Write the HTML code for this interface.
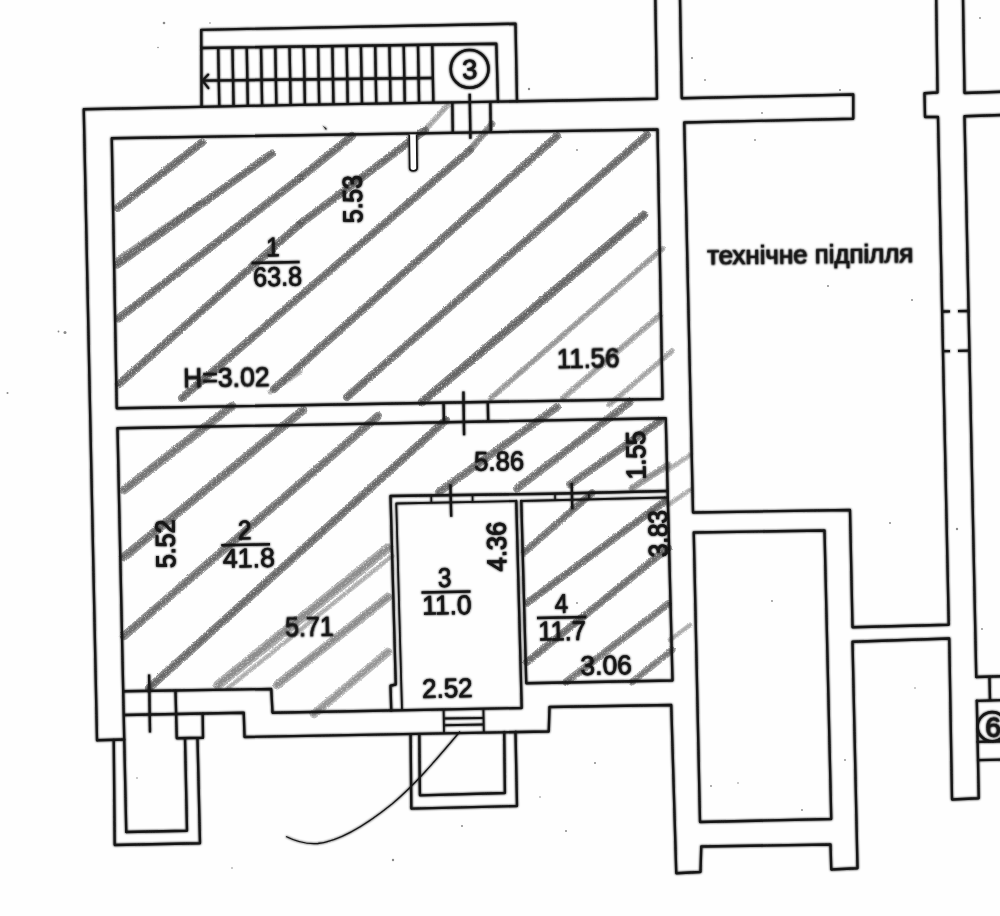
<!DOCTYPE html>
<html><head><meta charset="utf-8"><title>plan</title>
<style>
html,body{margin:0;padding:0;background:#fefefe;}
body{width:1000px;height:916px;overflow:hidden;font-family:"Liberation Sans",sans-serif;}
svg{display:block;}
text{font-family:"Liberation Sans",sans-serif;fill:#141414;stroke:#141414;stroke-width:0.55px;}
</style></head><body>
<svg width="1000" height="916" viewBox="0 0 1000 916">
<defs>
<filter id="pencil" x="-5%" y="-5%" width="110%" height="110%">
<feTurbulence type="fractalNoise" baseFrequency="0.8" numOctaves="2" seed="3" result="n"/>
<feDisplacementMap in="SourceGraphic" in2="n" scale="2.6" xChannelSelector="R" yChannelSelector="G" result="d"/>
<feColorMatrix in="n" type="matrix" values="0 0 0 0 0  0 0 0 0 0  0 0 0 0 0  0 1.9 0 0 0.15" result="a"/>
<feComposite in="d" in2="a" operator="in" result="g"/>
<feGaussianBlur in="g" stdDeviation="0.5"/>
</filter>
<filter id="soft" x="-2%" y="-2%" width="104%" height="104%"><feGaussianBlur stdDeviation="0.8" result="b"/><feMerge><feMergeNode in="b"/><feMergeNode in="SourceGraphic"/></feMerge></filter>
</defs>
<rect width="1000" height="916" fill="#fefefe"/>
<g><circle cx="164" cy="23" r="1.3" fill="#8a8a8a"/><circle cx="210" cy="23" r="0.8" fill="#8a8a8a"/><circle cx="158" cy="47.5" r="0.8" fill="#8a8a8a"/><circle cx="529" cy="89" r="1.2" fill="#8a8a8a"/><circle cx="65" cy="332.4" r="1.5" fill="#8a8a8a"/><circle cx="58.5" cy="331.5" r="0.9" fill="#8a8a8a"/><circle cx="7.5" cy="393" r="1.0" fill="#8a8a8a"/><circle cx="322" cy="47" r="1.0" fill="#8a8a8a"/><circle cx="692" cy="58" r="1.0" fill="#8a8a8a"/><circle cx="705" cy="80" r="0.9" fill="#8a8a8a"/><circle cx="840" cy="90" r="1.0" fill="#8a8a8a"/><circle cx="762" cy="113" r="0.9" fill="#8a8a8a"/><circle cx="980" cy="18" r="0.9" fill="#8a8a8a"/><circle cx="755" cy="140" r="0.9" fill="#8a8a8a"/><circle cx="828" cy="286" r="1.0" fill="#8a8a8a"/><circle cx="912" cy="300" r="1.0" fill="#8a8a8a"/><circle cx="982" cy="629" r="0.9" fill="#8a8a8a"/><circle cx="957" cy="529" r="1.2" fill="#8a8a8a"/><circle cx="890" cy="523" r="1.0" fill="#8a8a8a"/><circle cx="772" cy="601" r="0.9" fill="#8a8a8a"/><circle cx="711" cy="786" r="0.9" fill="#8a8a8a"/><circle cx="595" cy="763" r="1.0" fill="#8a8a8a"/><circle cx="566" cy="831" r="1.0" fill="#8a8a8a"/><circle cx="393" cy="860" r="1.2" fill="#8a8a8a"/><circle cx="462" cy="826" r="1.0" fill="#8a8a8a"/><circle cx="540" cy="797" r="0.8" fill="#8a8a8a"/><circle cx="232" cy="868" r="0.8" fill="#8a8a8a"/><circle cx="137" cy="778" r="0.8" fill="#8a8a8a"/><circle cx="738" cy="783" r="0.8" fill="#8a8a8a"/><circle cx="845" cy="760" r="0.9" fill="#8a8a8a"/><circle cx="802" cy="810" r="0.9" fill="#8a8a8a"/><circle cx="915" cy="688" r="0.8" fill="#8a8a8a"/><circle cx="577" cy="603" r="0.9" fill="#8a8a8a"/><circle cx="641" cy="130" r="0.8" fill="#8a8a8a"/><circle cx="577" cy="150" r="0.9" fill="#8a8a8a"/></g>
<g filter="url(#pencil)">
<line x1="117.5" y1="208" x2="202" y2="142.5" stroke="#6c6c6c" stroke-width="8.05" stroke-opacity="0.79" stroke-linecap="round"/>
<line x1="117.5" y1="208" x2="202" y2="142.5" stroke="#4e4e4e" stroke-width="4.43" stroke-opacity="0.54" stroke-linecap="round"/>
<line x1="117.5" y1="264.5" x2="272" y2="153.5" stroke="#6c6c6c" stroke-width="8.05" stroke-opacity="0.79" stroke-linecap="round"/>
<line x1="117.5" y1="264.5" x2="272" y2="153.5" stroke="#4e4e4e" stroke-width="4.43" stroke-opacity="0.54" stroke-linecap="round"/>
<line x1="118" y1="259" x2="200" y2="203" stroke="#6c6c6c" stroke-width="5.25" stroke-opacity="0.53" stroke-linecap="round"/>
<line x1="118" y1="259" x2="200" y2="203" stroke="#4e4e4e" stroke-width="2.89" stroke-opacity="0.36" stroke-linecap="round"/>
<line x1="118.5" y1="318.5" x2="300" y2="178" stroke="#6c6c6c" stroke-width="8.05" stroke-opacity="0.79" stroke-linecap="round"/>
<line x1="118.5" y1="318.5" x2="300" y2="178" stroke="#4e4e4e" stroke-width="4.43" stroke-opacity="0.54" stroke-linecap="round"/>
<line x1="300" y1="178" x2="352" y2="136" stroke="#6c6c6c" stroke-width="8.05" stroke-opacity="0.79" stroke-linecap="round"/>
<line x1="300" y1="178" x2="352" y2="136" stroke="#4e4e4e" stroke-width="4.43" stroke-opacity="0.54" stroke-linecap="round"/>
<line x1="119" y1="384" x2="300" y2="224" stroke="#6c6c6c" stroke-width="8.05" stroke-opacity="0.79" stroke-linecap="round"/>
<line x1="119" y1="384" x2="300" y2="224" stroke="#4e4e4e" stroke-width="4.43" stroke-opacity="0.54" stroke-linecap="round"/>
<line x1="300" y1="224" x2="425" y2="130" stroke="#6c6c6c" stroke-width="8.05" stroke-opacity="0.79" stroke-linecap="round"/>
<line x1="300" y1="224" x2="425" y2="130" stroke="#4e4e4e" stroke-width="4.43" stroke-opacity="0.54" stroke-linecap="round"/>
<line x1="425" y1="130" x2="447" y2="106" stroke="#6c6c6c" stroke-width="6.12" stroke-opacity="0.40" stroke-linecap="round"/>
<line x1="425" y1="130" x2="447" y2="106" stroke="#4e4e4e" stroke-width="3.37" stroke-opacity="0.27" stroke-linecap="round"/>
<line x1="182" y1="398" x2="470" y2="150" stroke="#6c6c6c" stroke-width="8.05" stroke-opacity="0.79" stroke-linecap="round"/>
<line x1="182" y1="398" x2="470" y2="150" stroke="#4e4e4e" stroke-width="4.43" stroke-opacity="0.54" stroke-linecap="round"/>
<line x1="470" y1="150" x2="492" y2="124" stroke="#6c6c6c" stroke-width="7.00" stroke-opacity="0.62" stroke-linecap="round"/>
<line x1="470" y1="150" x2="492" y2="124" stroke="#4e4e4e" stroke-width="3.85" stroke-opacity="0.42" stroke-linecap="round"/>
<line x1="274" y1="389" x2="557" y2="136" stroke="#6c6c6c" stroke-width="8.05" stroke-opacity="0.79" stroke-linecap="round"/>
<line x1="274" y1="389" x2="557" y2="136" stroke="#4e4e4e" stroke-width="4.43" stroke-opacity="0.54" stroke-linecap="round"/>
<line x1="347" y1="397" x2="647" y2="135" stroke="#6c6c6c" stroke-width="8.05" stroke-opacity="0.79" stroke-linecap="round"/>
<line x1="347" y1="397" x2="647" y2="135" stroke="#4e4e4e" stroke-width="4.43" stroke-opacity="0.54" stroke-linecap="round"/>
<line x1="422" y1="402" x2="644" y2="215" stroke="#6e6e6e" stroke-width="8.75" stroke-opacity="0.84" stroke-linecap="round"/>
<line x1="422" y1="402" x2="644" y2="215" stroke="#4e4e4e" stroke-width="4.81" stroke-opacity="0.57" stroke-linecap="round"/>
<line x1="491" y1="398" x2="662" y2="249" stroke="#6c6c6c" stroke-width="6.30" stroke-opacity="0.48" stroke-linecap="round"/>
<line x1="491" y1="398" x2="662" y2="249" stroke="#4e4e4e" stroke-width="3.47" stroke-opacity="0.33" stroke-linecap="round"/>
<line x1="563" y1="398" x2="660" y2="315" stroke="#6c6c6c" stroke-width="6.30" stroke-opacity="0.44" stroke-linecap="round"/>
<line x1="563" y1="398" x2="660" y2="315" stroke="#4e4e4e" stroke-width="3.47" stroke-opacity="0.30" stroke-linecap="round"/>
<line x1="609" y1="405" x2="672" y2="351" stroke="#6c6c6c" stroke-width="5.95" stroke-opacity="0.40" stroke-linecap="round"/>
<line x1="609" y1="405" x2="672" y2="351" stroke="#4e4e4e" stroke-width="3.27" stroke-opacity="0.27" stroke-linecap="round"/>
<line x1="270" y1="392" x2="300" y2="372" stroke="#6c6c6c" stroke-width="5.25" stroke-opacity="0.35" stroke-linecap="round"/>
<line x1="270" y1="392" x2="300" y2="372" stroke="#4e4e4e" stroke-width="2.89" stroke-opacity="0.24" stroke-linecap="round"/>
<line x1="124" y1="490" x2="232" y2="406" stroke="#6c6c6c" stroke-width="8.75" stroke-opacity="0.70" stroke-linecap="round"/>
<line x1="124" y1="490" x2="232" y2="406" stroke="#4e4e4e" stroke-width="4.81" stroke-opacity="0.48" stroke-linecap="round"/>
<line x1="124" y1="557" x2="303" y2="410" stroke="#6c6c6c" stroke-width="8.75" stroke-opacity="0.75" stroke-linecap="round"/>
<line x1="124" y1="557" x2="303" y2="410" stroke="#4e4e4e" stroke-width="4.81" stroke-opacity="0.51" stroke-linecap="round"/>
<line x1="124" y1="636" x2="378" y2="416" stroke="#6c6c6c" stroke-width="8.40" stroke-opacity="0.75" stroke-linecap="round"/>
<line x1="124" y1="636" x2="378" y2="416" stroke="#4e4e4e" stroke-width="4.62" stroke-opacity="0.51" stroke-linecap="round"/>
<line x1="149" y1="688" x2="446" y2="420" stroke="#6c6c6c" stroke-width="8.40" stroke-opacity="0.79" stroke-linecap="round"/>
<line x1="149" y1="688" x2="446" y2="420" stroke="#4e4e4e" stroke-width="4.62" stroke-opacity="0.54" stroke-linecap="round"/>
<line x1="218" y1="685" x2="388" y2="548" stroke="#6c6c6c" stroke-width="9.62" stroke-opacity="0.53" stroke-linecap="round"/>
<line x1="218" y1="685" x2="388" y2="548" stroke="#4e4e4e" stroke-width="5.29" stroke-opacity="0.36" stroke-linecap="round"/>
<line x1="228" y1="688" x2="392" y2="556" stroke="#6c6c6c" stroke-width="5.25" stroke-opacity="0.35" stroke-linecap="round"/>
<line x1="228" y1="688" x2="392" y2="556" stroke="#4e4e4e" stroke-width="2.89" stroke-opacity="0.24" stroke-linecap="round"/>
<line x1="277" y1="685" x2="388" y2="597" stroke="#6c6c6c" stroke-width="8.75" stroke-opacity="0.53" stroke-linecap="round"/>
<line x1="277" y1="685" x2="388" y2="597" stroke="#4e4e4e" stroke-width="4.81" stroke-opacity="0.36" stroke-linecap="round"/>
<line x1="314" y1="714" x2="388" y2="652" stroke="#6c6c6c" stroke-width="8.75" stroke-opacity="0.48" stroke-linecap="round"/>
<line x1="314" y1="714" x2="388" y2="652" stroke="#4e4e4e" stroke-width="4.81" stroke-opacity="0.33" stroke-linecap="round"/>
<line x1="439" y1="492" x2="557" y2="407" stroke="#6c6c6c" stroke-width="8.05" stroke-opacity="0.75" stroke-linecap="round"/>
<line x1="439" y1="492" x2="557" y2="407" stroke="#4e4e4e" stroke-width="4.43" stroke-opacity="0.51" stroke-linecap="round"/>
<line x1="517" y1="488.5" x2="630" y2="402" stroke="#6c6c6c" stroke-width="8.05" stroke-opacity="0.75" stroke-linecap="round"/>
<line x1="517" y1="488.5" x2="630" y2="402" stroke="#4e4e4e" stroke-width="4.43" stroke-opacity="0.51" stroke-linecap="round"/>
<line x1="570" y1="484.5" x2="660" y2="421" stroke="#6c6c6c" stroke-width="7.70" stroke-opacity="0.75" stroke-linecap="round"/>
<line x1="570" y1="484.5" x2="660" y2="421" stroke="#4e4e4e" stroke-width="4.24" stroke-opacity="0.51" stroke-linecap="round"/>
<line x1="524.5" y1="552" x2="592" y2="493" stroke="#6c6c6c" stroke-width="7.35" stroke-opacity="0.75" stroke-linecap="round"/>
<line x1="524.5" y1="552" x2="592" y2="493" stroke="#4e4e4e" stroke-width="4.04" stroke-opacity="0.51" stroke-linecap="round"/>
<line x1="632" y1="488" x2="668" y2="465" stroke="#6c6c6c" stroke-width="7.00" stroke-opacity="0.53" stroke-linecap="round"/>
<line x1="632" y1="488" x2="668" y2="465" stroke="#4e4e4e" stroke-width="3.85" stroke-opacity="0.36" stroke-linecap="round"/>
<line x1="527" y1="603" x2="665" y2="501" stroke="#6c6c6c" stroke-width="7.70" stroke-opacity="0.77" stroke-linecap="round"/>
<line x1="527" y1="603" x2="665" y2="501" stroke="#4e4e4e" stroke-width="4.24" stroke-opacity="0.53" stroke-linecap="round"/>
<line x1="527" y1="662" x2="668" y2="548" stroke="#6c6c6c" stroke-width="7.70" stroke-opacity="0.75" stroke-linecap="round"/>
<line x1="527" y1="662" x2="668" y2="548" stroke="#4e4e4e" stroke-width="4.24" stroke-opacity="0.51" stroke-linecap="round"/>
<line x1="566" y1="682" x2="668" y2="604" stroke="#6c6c6c" stroke-width="7.35" stroke-opacity="0.70" stroke-linecap="round"/>
<line x1="566" y1="682" x2="668" y2="604" stroke="#4e4e4e" stroke-width="4.04" stroke-opacity="0.48" stroke-linecap="round"/>
<line x1="632" y1="682" x2="672" y2="650" stroke="#6c6c6c" stroke-width="7.00" stroke-opacity="0.66" stroke-linecap="round"/>
<line x1="632" y1="682" x2="672" y2="650" stroke="#4e4e4e" stroke-width="3.85" stroke-opacity="0.45" stroke-linecap="round"/>
<line x1="668" y1="470" x2="690" y2="455" stroke="#6c6c6c" stroke-width="5.25" stroke-opacity="0.35" stroke-linecap="round"/>
<line x1="668" y1="470" x2="690" y2="455" stroke="#4e4e4e" stroke-width="2.89" stroke-opacity="0.24" stroke-linecap="round"/>
<line x1="668" y1="505" x2="690" y2="490" stroke="#6c6c6c" stroke-width="5.25" stroke-opacity="0.35" stroke-linecap="round"/>
<line x1="668" y1="505" x2="690" y2="490" stroke="#4e4e4e" stroke-width="2.89" stroke-opacity="0.24" stroke-linecap="round"/>
<line x1="670" y1="640" x2="690" y2="625" stroke="#6c6c6c" stroke-width="5.25" stroke-opacity="0.35" stroke-linecap="round"/>
<line x1="670" y1="640" x2="690" y2="625" stroke="#4e4e4e" stroke-width="2.89" stroke-opacity="0.24" stroke-linecap="round"/>
</g>
<g filter="url(#soft)">
<polyline points="201.60,106.80 201.20,29.80 515.50,23.75 517.00,101.30" fill="none" stroke="#141414" stroke-width="2.35" stroke-linejoin="round" stroke-linecap="round" />
<polyline points="201.30,48.00 496.30,43.75 498.00,101.70" fill="none" stroke="#141414" stroke-width="2.35" stroke-linejoin="round" stroke-linecap="round" />
<line x1="218.20" y1="47.76" x2="219.30" y2="106.50" stroke="#141414" stroke-width="2.35" stroke-linecap="butt" />
<line x1="232.47" y1="47.55" x2="233.57" y2="106.25" stroke="#141414" stroke-width="2.35" stroke-linecap="butt" />
<line x1="246.74" y1="47.35" x2="247.84" y2="106.00" stroke="#141414" stroke-width="2.35" stroke-linecap="butt" />
<line x1="261.01" y1="47.14" x2="262.11" y2="105.75" stroke="#141414" stroke-width="2.35" stroke-linecap="butt" />
<line x1="275.28" y1="46.93" x2="276.38" y2="105.50" stroke="#141414" stroke-width="2.35" stroke-linecap="butt" />
<line x1="289.55" y1="46.73" x2="290.65" y2="105.25" stroke="#141414" stroke-width="2.35" stroke-linecap="butt" />
<line x1="303.82" y1="46.52" x2="304.92" y2="105.00" stroke="#141414" stroke-width="2.35" stroke-linecap="butt" />
<line x1="318.09" y1="46.32" x2="319.19" y2="104.75" stroke="#141414" stroke-width="2.35" stroke-linecap="butt" />
<line x1="332.36" y1="46.11" x2="333.46" y2="104.50" stroke="#141414" stroke-width="2.35" stroke-linecap="butt" />
<line x1="346.63" y1="45.91" x2="347.73" y2="104.25" stroke="#141414" stroke-width="2.35" stroke-linecap="butt" />
<line x1="360.90" y1="45.70" x2="362.00" y2="104.00" stroke="#141414" stroke-width="2.35" stroke-linecap="butt" />
<line x1="375.17" y1="45.50" x2="376.27" y2="103.75" stroke="#141414" stroke-width="2.35" stroke-linecap="butt" />
<line x1="389.44" y1="45.29" x2="390.54" y2="103.50" stroke="#141414" stroke-width="2.35" stroke-linecap="butt" />
<line x1="403.71" y1="45.08" x2="404.81" y2="103.25" stroke="#141414" stroke-width="2.35" stroke-linecap="butt" />
<line x1="417.98" y1="44.88" x2="419.08" y2="103.00" stroke="#141414" stroke-width="2.35" stroke-linecap="butt" />
<line x1="432.25" y1="44.67" x2="433.35" y2="102.75" stroke="#141414" stroke-width="2.35" stroke-linecap="butt" />
<line x1="201.50" y1="80.60" x2="432.30" y2="78.00" stroke="#141414" stroke-width="2.35" stroke-linecap="butt" />
<polyline points="208.20,74.60 202.60,80.60 208.40,88.20" fill="none" stroke="#141414" stroke-width="2.2" stroke-linejoin="round" stroke-linecap="round" />
<circle cx="469.6" cy="68.9" r="18.9" fill="none" stroke="#141414" stroke-width="2.6"/>
<polyline points="97.00,740.25 83.75,109.25 201.00,106.80 300.00,104.90 550.00,100.75 657.00,98.75 655.30,-2.00" fill="none" stroke="#141414" stroke-width="2.35" stroke-linejoin="round" stroke-linecap="round" />
<polyline points="97.00,740.25 124.25,739.50" fill="none" stroke="#141414" stroke-width="2.35" stroke-linejoin="round" stroke-linecap="round" />
<polyline points="111.75,138.25 657.50,129.50 662.50,399.00 116.75,408.25 111.75,138.25 657.50,129.50" fill="none" stroke="#141414" stroke-width="2.35" stroke-linejoin="round" stroke-linecap="round" />
<polyline points="126.25,832.00 117.50,428.25 665.75,418.25 672.50,680.50 526.25,683.25 521.25,501.00" fill="none" stroke="#141414" stroke-width="2.35" stroke-linejoin="round" stroke-linecap="round" />
<polyline points="124.25,691.25 271.25,689.00 272.50,712.75 521.70,708.00 516.25,501.00" fill="none" stroke="#141414" stroke-width="2.35" stroke-linejoin="round" stroke-linecap="round" />
<polyline points="124.25,715.00 243.75,712.75 244.50,737.00 548.75,731.50 549.50,707.00 671.25,705.00 676.25,873.25 700.50,872.00 701.25,846.50 830.50,844.50 831.25,869.50 857.50,868.25 852.50,641.75 949.25,638.50 952.00,799.50 978.75,798.25 976.80,700.60" fill="none" stroke="#141414" stroke-width="2.35" stroke-linejoin="round" stroke-linecap="round" />
<polyline points="976.25,677.00 964.50,116.25 1002.00,115.00" fill="none" stroke="#141414" stroke-width="2.35" stroke-linejoin="round" stroke-linecap="round" />
<polyline points="976.25,677.00 1002.00,676.25" fill="none" stroke="#141414" stroke-width="2.35" stroke-linejoin="round" stroke-linecap="round" />
<polyline points="693.75,532.50 824.50,530.50 831.25,819.00 700.00,822.00 693.75,532.50 824.50,530.50" fill="none" stroke="#141414" stroke-width="2.35" stroke-linejoin="round" stroke-linecap="round" />
<polyline points="680.00,-2.00 681.75,98.25 853.25,94.50 853.25,118.75 684.25,122.50 693.00,512.50 850.00,510.00 852.50,627.25 948.75,624.75 938.00,117.00 925.00,117.00 924.50,93.25 937.50,92.50 936.20,-2.00" fill="none" stroke="#141414" stroke-width="2.35" stroke-linejoin="round" stroke-linecap="round" />
<polyline points="963.00,-2.00 964.50,93.00 1002.00,91.75" fill="none" stroke="#141414" stroke-width="2.35" stroke-linejoin="round" stroke-linecap="round" />
<line x1="942.30" y1="311.50" x2="950.00" y2="311.40" stroke="#141414" stroke-width="2.35" stroke-linecap="butt" />
<line x1="958.00" y1="311.20" x2="969.50" y2="311.00" stroke="#141414" stroke-width="2.35" stroke-linecap="butt" />
<line x1="942.30" y1="351.20" x2="950.00" y2="351.10" stroke="#141414" stroke-width="2.35" stroke-linecap="butt" />
<line x1="958.00" y1="350.90" x2="969.50" y2="350.70" stroke="#141414" stroke-width="2.35" stroke-linecap="butt" />
<line x1="989.50" y1="677.00" x2="990.00" y2="700.50" stroke="#141414" stroke-width="2.35" stroke-linecap="butt" />
<polyline points="976.80,700.80 1002.00,700.20" fill="none" stroke="#141414" stroke-width="2.35" stroke-linejoin="round" stroke-linecap="round" />
<circle cx="992.2" cy="726.7" r="14.6" fill="none" stroke="#141414" stroke-width="2.6"/>
<polyline points="977.60,741.90 1002.00,741.40" fill="none" stroke="#141414" stroke-width="2.35" stroke-linejoin="round" stroke-linecap="round" />
<polyline points="978.00,760.20 1002.00,759.70" fill="none" stroke="#141414" stroke-width="2.35" stroke-linejoin="round" stroke-linecap="round" />
<polyline points="391.25,710.75 390.50,685.75 395.75,684.50 390.50,496.00 550.00,493.75 667.00,491.00" fill="none" stroke="#141414" stroke-width="2.35" stroke-linejoin="round" stroke-linecap="round" />
<polyline points="402.00,710.00 396.25,503.50 516.25,501.00" fill="none" stroke="#141414" stroke-width="1.8" stroke-linejoin="round" stroke-linecap="round" />
<polyline points="521.25,501.00 667.00,497.50" fill="none" stroke="#141414" stroke-width="1.8" stroke-linejoin="round" stroke-linecap="round" />
<line x1="431.25" y1="496.00" x2="431.40" y2="503.00" stroke="#141414" stroke-width="1.6" stroke-linecap="butt" />
<line x1="472.50" y1="495.20" x2="472.60" y2="502.20" stroke="#141414" stroke-width="1.6" stroke-linecap="butt" />
<line x1="450.40" y1="484.25" x2="451.20" y2="516.75" stroke="#141414" stroke-width="2.35" stroke-linecap="butt" />
<line x1="571.70" y1="483.00" x2="572.30" y2="509.25" stroke="#141414" stroke-width="2.35" stroke-linecap="butt" />
<line x1="555.00" y1="493.60" x2="555.10" y2="500.40" stroke="#141414" stroke-width="1.6" stroke-linecap="butt" />
<line x1="588.75" y1="493.10" x2="588.90" y2="499.90" stroke="#141414" stroke-width="1.6" stroke-linecap="butt" />
<line x1="452.30" y1="102.50" x2="452.80" y2="132.80" stroke="#141414" stroke-width="2.35" stroke-linecap="butt" />
<line x1="490.30" y1="101.80" x2="490.80" y2="132.20" stroke="#141414" stroke-width="2.35" stroke-linecap="butt" />
<line x1="469.70" y1="93.75" x2="470.40" y2="138.75" stroke="#141414" stroke-width="2.35" stroke-linecap="butt" />
<path d="M409.2,134.5 L409.7,168.3 Q409.8,170.9 413.3,170.8 Q417.1,170.8 417.1,168.1 L416.7,134.4" fill="#fefefe" stroke="#141414" stroke-width="1.8"/>
<line x1="443.60" y1="403.00" x2="444.00" y2="422.50" stroke="#141414" stroke-width="2.35" stroke-linecap="butt" />
<line x1="487.80" y1="402.20" x2="488.20" y2="421.80" stroke="#141414" stroke-width="2.35" stroke-linecap="butt" />
<line x1="463.40" y1="391.50" x2="464.10" y2="435.25" stroke="#141414" stroke-width="2.35" stroke-linecap="butt" />
<line x1="149.10" y1="674.50" x2="150.00" y2="732.50" stroke="#141414" stroke-width="2.35" stroke-linecap="butt" />
<polyline points="175.50,690.75 176.75,738.25 203.00,737.75 202.70,714.00" fill="none" stroke="#141414" stroke-width="2.35" stroke-linejoin="round" stroke-linecap="round" />
<polyline points="113.75,740.00 114.70,845.00 200.00,843.25 197.50,738.25" fill="none" stroke="#141414" stroke-width="2.35" stroke-linejoin="round" stroke-linecap="round" />
<polyline points="126.25,832.00 187.00,830.75 185.00,738.25" fill="none" stroke="#141414" stroke-width="2.35" stroke-linejoin="round" stroke-linecap="round" />
<polyline points="443.60,710.00 444.00,732.80" fill="none" stroke="#141414" stroke-width="1.8" stroke-linejoin="round" stroke-linecap="round" />
<polyline points="483.40,709.30 483.80,732.00" fill="none" stroke="#141414" stroke-width="1.8" stroke-linejoin="round" stroke-linecap="round" />
<line x1="444.00" y1="718.60" x2="483.60" y2="717.90" stroke="#141414" stroke-width="2.0" stroke-linecap="butt" />
<line x1="444.00" y1="725.30" x2="483.70" y2="724.60" stroke="#141414" stroke-width="2.0" stroke-linecap="butt" />
<polyline points="410.60,734.50 411.30,808.60 517.00,806.00 515.50,731.80" fill="none" stroke="#141414" stroke-width="2.35" stroke-linejoin="round" stroke-linecap="round" />
<polyline points="419.30,734.30 419.90,795.30 504.90,793.00 504.20,732.00" fill="none" stroke="#141414" stroke-width="2.35" stroke-linejoin="round" stroke-linecap="round" />
<path d="M286,836.5 C296,841.5 306,844.5 318,843.5 C340,841 366,825 392,804 C418,782 440,755 460,731.5" fill="none" stroke="#141414" stroke-width="1.3"/>
<path d="M322.5,125.6 L326.6,128.2 L326.2,130.2 Z" fill="#222"/>
<line x1="251.50" y1="262.90" x2="299.60" y2="262.06" stroke="#141414" stroke-width="2.5" stroke-linecap="butt" />
<line x1="221.25" y1="545.20" x2="270.00" y2="544.35" stroke="#141414" stroke-width="2.5" stroke-linecap="butt" />
<line x1="421.50" y1="592.40" x2="470.50" y2="591.54" stroke="#141414" stroke-width="2.5" stroke-linecap="butt" />
<line x1="537.00" y1="617.90" x2="586.30" y2="617.04" stroke="#141414" stroke-width="2.5" stroke-linecap="butt" />
</g>
<g filter="url(#soft)">
<text x="0" y="0" transform="translate(469.9,78.9) rotate(-1)" font-size="27.5" text-anchor="middle" style="stroke-width:0.55px">3</text>
<text x="0" y="0" transform="translate(985.4,736.9) rotate(-1)" font-size="28.5" text-anchor="start" style="stroke-width:0.8px">6</text>
<text x="0" y="0" transform="translate(362.3,223.0) rotate(-91)" font-size="27" text-anchor="start" textLength="48.0" lengthAdjust="spacingAndGlyphs" style="stroke-width:0.95px">5.53</text>
<text x="0" y="0" transform="translate(266.3,256.6) rotate(-1.0)" font-size="27" text-anchor="start" textLength="13.5" lengthAdjust="spacingAndGlyphs">1</text>
<text x="0" y="0" transform="translate(253.2,286.3) rotate(-1.0)" font-size="27" text-anchor="start" textLength="49.0" lengthAdjust="spacingAndGlyphs">63.8</text>
<text x="0" y="0" transform="translate(183.2,387.6) rotate(-1.0)" font-size="27" text-anchor="start" textLength="86.5" lengthAdjust="spacingAndGlyphs">H=3.02</text>
<text x="0" y="0" transform="translate(557.0,368.3) rotate(-1.0)" font-size="27" text-anchor="start" textLength="62.5" lengthAdjust="spacingAndGlyphs">11.56</text>
<text x="0" y="0" transform="translate(707.3,264.5) rotate(-0.6)" font-size="26.5" text-anchor="start" textLength="206.0" lengthAdjust="spacingAndGlyphs" style="stroke-width:0.7px">технічне підпілля</text>
<text x="0" y="0" transform="translate(175.2,568.0) rotate(-91)" font-size="27" text-anchor="start" textLength="48.5" lengthAdjust="spacingAndGlyphs" style="stroke-width:0.95px">5.52</text>
<text x="0" y="0" transform="translate(238.0,539.6) rotate(-1.0)" font-size="27" text-anchor="start" textLength="13.5" lengthAdjust="spacingAndGlyphs">2</text>
<text x="0" y="0" transform="translate(223.0,567.7) rotate(-1.0)" font-size="27" text-anchor="start" textLength="52.0" lengthAdjust="spacingAndGlyphs">41.8</text>
<text x="0" y="0" transform="translate(285.3,636.6) rotate(-1.0)" font-size="27" text-anchor="start" textLength="48.5" lengthAdjust="spacingAndGlyphs">5.71</text>
<text x="0" y="0" transform="translate(474.3,470.8) rotate(-1.0)" font-size="27" text-anchor="start" textLength="50.0" lengthAdjust="spacingAndGlyphs">5.86</text>
<text x="0" y="0" transform="translate(645.5,479.3) rotate(-91)" font-size="27" text-anchor="start" textLength="48.5" lengthAdjust="spacingAndGlyphs" style="stroke-width:0.95px">1.55</text>
<text x="0" y="0" transform="translate(506.3,571.2) rotate(-91)" font-size="27" text-anchor="start" textLength="49.5" lengthAdjust="spacingAndGlyphs" style="stroke-width:0.95px">4.36</text>
<text x="0" y="0" transform="translate(667.8,557.0) rotate(-91)" font-size="27" text-anchor="start" textLength="47.0" lengthAdjust="spacingAndGlyphs" style="stroke-width:0.95px">3.83</text>
<text x="0" y="0" transform="translate(438.0,587.0) rotate(-1.0)" font-size="27" text-anchor="start" textLength="13.5" lengthAdjust="spacingAndGlyphs">3</text>
<text x="0" y="0" transform="translate(422.3,614.8) rotate(-1.0)" font-size="27" text-anchor="start" textLength="49.5" lengthAdjust="spacingAndGlyphs">11.0</text>
<text x="0" y="0" transform="translate(554.8,613.0) rotate(-1.0)" font-size="27" text-anchor="start" textLength="13.5" lengthAdjust="spacingAndGlyphs">4</text>
<text x="0" y="0" transform="translate(538.5,640.6) rotate(-1.0)" font-size="27" text-anchor="start" textLength="47.5" lengthAdjust="spacingAndGlyphs">11.7</text>
<text x="0" y="0" transform="translate(580.6,675.0) rotate(-1.0)" font-size="27" text-anchor="start" textLength="51.5" lengthAdjust="spacingAndGlyphs">3.06</text>
<text x="0" y="0" transform="translate(422.3,697.9) rotate(-1.0)" font-size="27" text-anchor="start" textLength="50.5" lengthAdjust="spacingAndGlyphs">2.52</text>
</g>
</svg>
</body></html>
